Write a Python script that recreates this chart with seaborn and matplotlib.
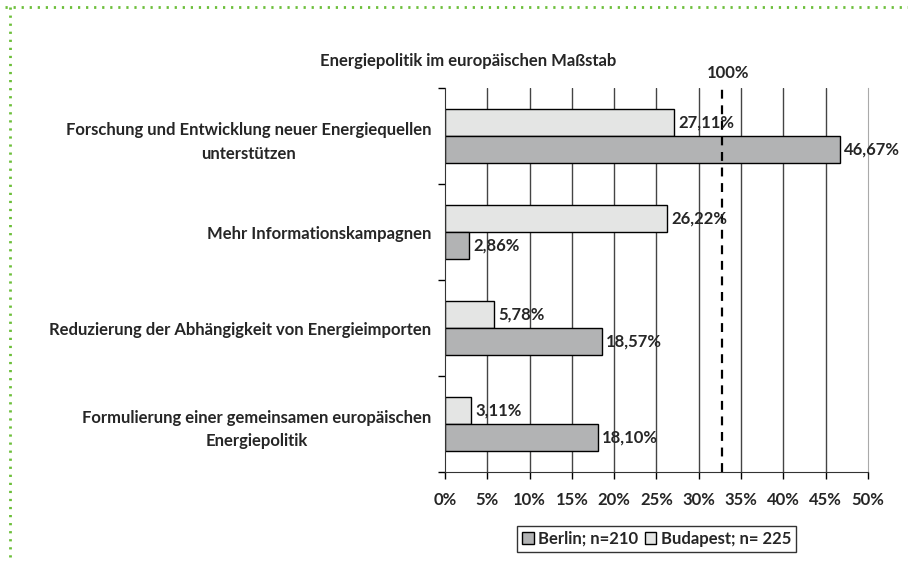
import pandas as pd
import seaborn as sns
import numpy as np
import matplotlib.pyplot as plt
from matplotlib.patches import Patch
from matplotlib.lines import Line2D

# data
categories = ["Forschung und Entwicklung neuer Energiequellen\nunterstützen",
              "Mehr Informationskampagnen",
              "Reduzierung der Abhängigkeit von Energieimporten",
              "Formulierung einer gemeinsamen europäischen\nEnergiepolitik"]
berlin = [46.67, 2.86, 18.57, 18.10]
budapest = [27.11, 26.22, 5.78, 3.11]
series_names = ["Berlin; n=210", "Budapest; n= 225"]
ref_line = 32.8  # dashed "100%" marker
ref_label = "100%"
xticks = list(range(0, 51, 5))

berlin_col = "#b2b3b4"
budapest_col = "#e4e5e4"

df = pd.DataFrame({
    "Kategorie": categories * 2,
    "Wert": berlin + budapest,
    "Stadt": [series_names[0]] * 4 + [series_names[1]] * 4,
})

sns.set_style("white")
plt.rcParams['font.family'] = ['Lato', 'DejaVu Sans']
plt.rcParams['font.weight'] = 'bold'
fs = 12

fig = plt.figure(figsize=(9.08, 5.62), dpi=100)
ax = fig.add_axes([0.490, 0.160, 0.466, 0.683])

sns.barplot(data=df, y="Kategorie", x="Wert", hue="Stadt", order=categories,
            hue_order=[series_names[1], series_names[0]],
            palette={series_names[0]: berlin_col, series_names[1]: budapest_col},
            width=0.56, edgecolor="black", linewidth=1, legend=False, ax=ax,
            saturation=1)

# value labels with comma decimals
for cont in ax.containers:
    vals = [b.get_width() for b in cont]
    ax.bar_label(cont, labels=[f"{v:.2f}".replace(".", ",") + "%" for v in vals],
                 padding=3, fontsize=fs, fontweight="bold")

ax.set_xlim(0, 50)
ax.set_ylim(3.5, -0.5)
ax.set_xticks(xticks)
ax.set_xticklabels([f"{t}%" for t in xticks], fontsize=fs, fontweight="bold")
ax.set_yticks(range(len(categories)))
ax.set_yticklabels(categories, fontsize=fs, fontweight="bold", ha="right",
                   multialignment="center", linespacing=1.6)
ax.set_yticks(np.arange(-0.5, 4, 1), minor=True)
ax.tick_params(axis="y", which="major", left=True, length=0, pad=10)
ax.tick_params(axis="y", which="minor", left=True, length=5, width=1,
               color="black", direction="out")
ax.tick_params(axis="x", bottom=True, length=5, width=1, color="black",
               direction="out", pad=9)
ax.set_xlabel("")
ax.set_ylabel("")

# vertical gridlines
for t in xticks[1:-1]:
    ax.axvline(t, color="#444444", lw=1, zorder=0)
ax.spines["top"].set_visible(False)
ax.spines["right"].set_color("#aaaaaa")
ax.spines["left"].set_color("#333333")
ax.spines["bottom"].set_color("#333333")

ax.axvline(ref_line, color="black", lw=1.6, ls=(0, (4, 3)), zorder=1)
ax.text(ref_line + 0.7, -0.58, ref_label, ha="center", va="bottom",
        fontsize=fs, fontweight="bold")

fig.text(0.516, 0.892, "Energiepolitik im europäischen Maßstab", ha="center",
         va="center", fontsize=fs, fontweight="bold")

handles = [Patch(facecolor=berlin_col, edgecolor="black", label=series_names[0]),
           Patch(facecolor=budapest_col, edgecolor="black", label=series_names[1])]
leg = ax.legend(handles=handles, loc="upper center", bbox_to_anchor=(0.5, -0.14),
                ncol=2, frameon=True, fancybox=False, fontsize=fs,
                handlelength=0.7, handleheight=0.7, handletextpad=0.25,
                columnspacing=0.4, borderpad=0.3, borderaxespad=0)
leg.get_frame().set_edgecolor("black")
leg.get_frame().set_linewidth(1)
for txt in leg.get_texts():
    txt.set_fontweight("bold")

# green dotted frame
green = "#6cbf3a"
fig.add_artist(Line2D([0.005, 1.0], [0.987, 0.987], color=green, lw=2,
                      ls=(0, (0.8, 2.1)), transform=fig.transFigure))
fig.add_artist(Line2D([0.011, 0.011], [0.987, 0.0], color=green, lw=2,
                      ls=(0, (0.8, 2.1)), transform=fig.transFigure))

fig.savefig("out.png", dpi=100)
